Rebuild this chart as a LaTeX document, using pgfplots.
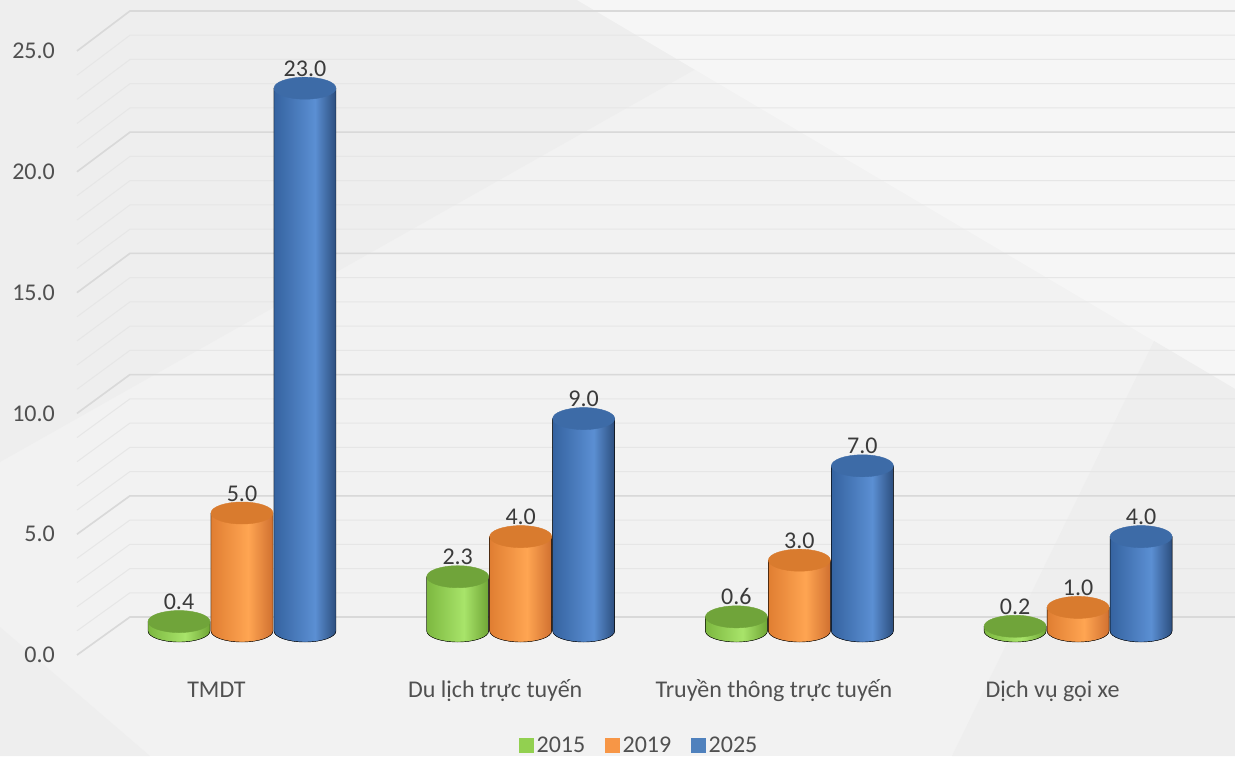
\documentclass[border=0pt]{standalone}
\usepackage{pgfplots}
\usepackage{pgfplotstable}
\pgfplotsset{compat=1.18}
\usepackage{fontspec}
\setmainfont{Carlito}
\definecolor{bgcol}{HTML}{F2F2F2}
\definecolor{bgdark}{HTML}{EEEEEE}
\definecolor{bglight}{HTML}{F6F6F6}
\definecolor{majgrid}{HTML}{D9D9D9}
\definecolor{mingrid}{HTML}{E6E6E6}
\definecolor{tickgray}{HTML}{505050}
\definecolor{labgray}{HTML}{3A3A3A}
\definecolor{gE}{HTML}{7DB840}\definecolor{gL}{HTML}{A8E46A}\definecolor{gE2}{HTML}{6FA535}\definecolor{gT}{HTML}{70A43A}
\definecolor{oE}{HTML}{E07E32}\definecolor{oL}{HTML}{FFA552}\definecolor{oE2}{HTML}{D07030}\definecolor{oT}{HTML}{D97B2E}
\definecolor{bE}{HTML}{3563A0}\definecolor{bL}{HTML}{5B8FD3}\definecolor{bE2}{HTML}{2C4E7E}\definecolor{bT}{HTML}{3D6BA7}
\definecolor{legG}{HTML}{92D050}\definecolor{legO}{HTML}{F79646}\definecolor{legB}{HTML}{4F81BD}
\pgfdeclarehorizontalshading{cylG}{100bp}{color(0bp)=(gE); color(25bp)=(gE); color(55bp)=(gL); color(75bp)=(gE2); color(100bp)=(gE2)}
\pgfdeclarehorizontalshading{cylO}{100bp}{color(0bp)=(oE); color(25bp)=(oE); color(55bp)=(oL); color(75bp)=(oE2); color(100bp)=(oE2)}
\pgfdeclarehorizontalshading{cylB}{100bp}{color(0bp)=(bE); color(25bp)=(bE); color(58bp)=(bL); color(75bp)=(bE2); color(100bp)=(bE2)}
\newcommand\defcyl[2]{%
  \pgfdeclareplotmark{#1}{%
    \pgfmathsetlengthmacro{\hh}{\cylh*23.6}%
    \fill[shading=#1] (-31pt,0pt) -- (-31pt,-\hh) arc[start angle=180,end angle=360,x radius=31pt,y radius=11pt] -- (31pt,0pt) -- cycle;
    \fill[#2] (0pt,0pt) ellipse[x radius=31pt,y radius=11pt];
  }}
\defcyl{cylG}{gT}
\defcyl{cylO}{oT}
\defcyl{cylB}{bT}
\pgfplotstableread{
x g o b
0 0.4 5.0 23.0
1 2.3 4.0 9.0
2 0.6 3.0 7.0
3 0.2 1.0 4.0
}\datatab
\begin{document}
\begin{tikzpicture}
\begin{axis}[
  name=ax, set layers,
  x=278.7pt, y=23.6pt,
  xmin=-0.592, xmax=3.563, ymin=-2.797, ymax=26.74,
  clip=false,
  axis line style={draw=none},
  major tick length=0pt, tick style={draw=none},
  ytick={-1.017,4.102,9.220,14.339,19.458,24.576},
  yticklabels={0.0,5.0,10.0,15.0,20.0,25.0},
  xtick={0,1,2,3},
  xticklabels={TMDT,Du lịch trực tuyến,Truyền thông trực tuyến,Dịch vụ gọi xe},
  yticklabel style={anchor=east, inner sep=0pt, xshift=-22pt, font=\fontsize{24}{29}\selectfont, text=tickgray},
  xticklabel style={anchor=base, inner sep=0pt, xshift=-25.5pt, font=\fontsize{24}{29}\selectfont, text=tickgray},
  /pgf/number format/.cd, fixed, fixed zerofill, precision=1, assume math mode=true, /pgfplots/.cd,
  nodes near coords,
  every node near coord/.append style={anchor=base, yshift=12pt, inner sep=0pt, font=\fontsize{24}{29}\selectfont, text=labgray},
  legend columns=-1,
  legend style={at={(0.486,-0.0689)}, anchor=center, draw=none, fill=none, font=\fontsize{24}{29}\selectfont, text=tickgray,
    nodes={inner sep=3.5pt}, /tikz/every even column/.append style={column sep=16pt}},
]
\begin{pgfonlayer}{axis background}
% page background (decoration), in axis units
\fill[bgcol] (axis cs:-0.8683,-5.2966) rectangle (axis cs:3.5630,26.7373);
\fill[bgdark] (axis cs:-0.8683,26.7373) -- (axis cs:2.0667,26.7373) -- (axis cs:-0.8683,7.1610) -- cycle;
\fill[bglight] (axis cs:1.2020,26.7373) -- (axis cs:3.5630,26.7373) -- (axis cs:3.5630,10.2542) -- cycle;
\fill[bgdark] (axis cs:3.2724,12.2881) -- (axis cs:3.5630,10.2542) -- (axis cs:3.5630,-5.2966) -- (axis cs:2.5476,-5.2966) -- cycle;
\fill[bgdark] (axis cs:-0.8683,0.1695) -- (axis cs:-0.3301,-5.2966) -- (axis cs:-0.8683,-5.2966) -- cycle;
\pgfplotsinvokeforeach{0,...,25}{
  \draw[mingrid, line width=1pt] (axis cs:-0.592,{(-24+24.16*#1)/23.6}) -- (axis cs:-0.402,{(14+24.24*#1)/23.6}) -- (axis cs:3.563,{(14+24.24*#1)/23.6});
}
\pgfplotsinvokeforeach{0,5,...,25}{
  \draw[majgrid, line width=1.6pt] (axis cs:-0.592,{(-24+24.16*#1)/23.6}) -- (axis cs:-0.402,{(14+24.24*#1)/23.6}) -- (axis cs:3.563,{(14+24.24*#1)/23.6});
}
\end{pgfonlayer}
\coordinate (pgSW) at (axis cs:-0.8683,-5.2966);
\coordinate (pgNE) at (axis cs:3.5630,26.7373);
\addplot[only marks, mark=cylG, visualization depends on={\thisrow{g} \as \cylh},
  legend image code/.code={\fill[legG] (0pt,-7pt) rectangle (14pt,7pt);}]
  table[x expr=\thisrow{x}-0.226, y=g] {\datatab};
\addlegendentry{2015}
\addplot[only marks, mark=cylO, visualization depends on={\thisrow{o} \as \cylh},
  legend image code/.code={\fill[legO] (0pt,-7pt) rectangle (14pt,7pt);}]
  table[x=x, y=o] {\datatab};
\addlegendentry{2019}
\addplot[only marks, mark=cylB, visualization depends on={\thisrow{b} \as \cylh},
  legend image code/.code={\fill[legB] (0pt,-7pt) rectangle (14pt,7pt);}]
  table[x expr=\thisrow{x}+0.226, y=b] {\datatab};
\addlegendentry{2025}
\end{axis}
\pgfresetboundingbox
\path (pgSW) rectangle (pgNE);
\end{tikzpicture}
\end{document}
